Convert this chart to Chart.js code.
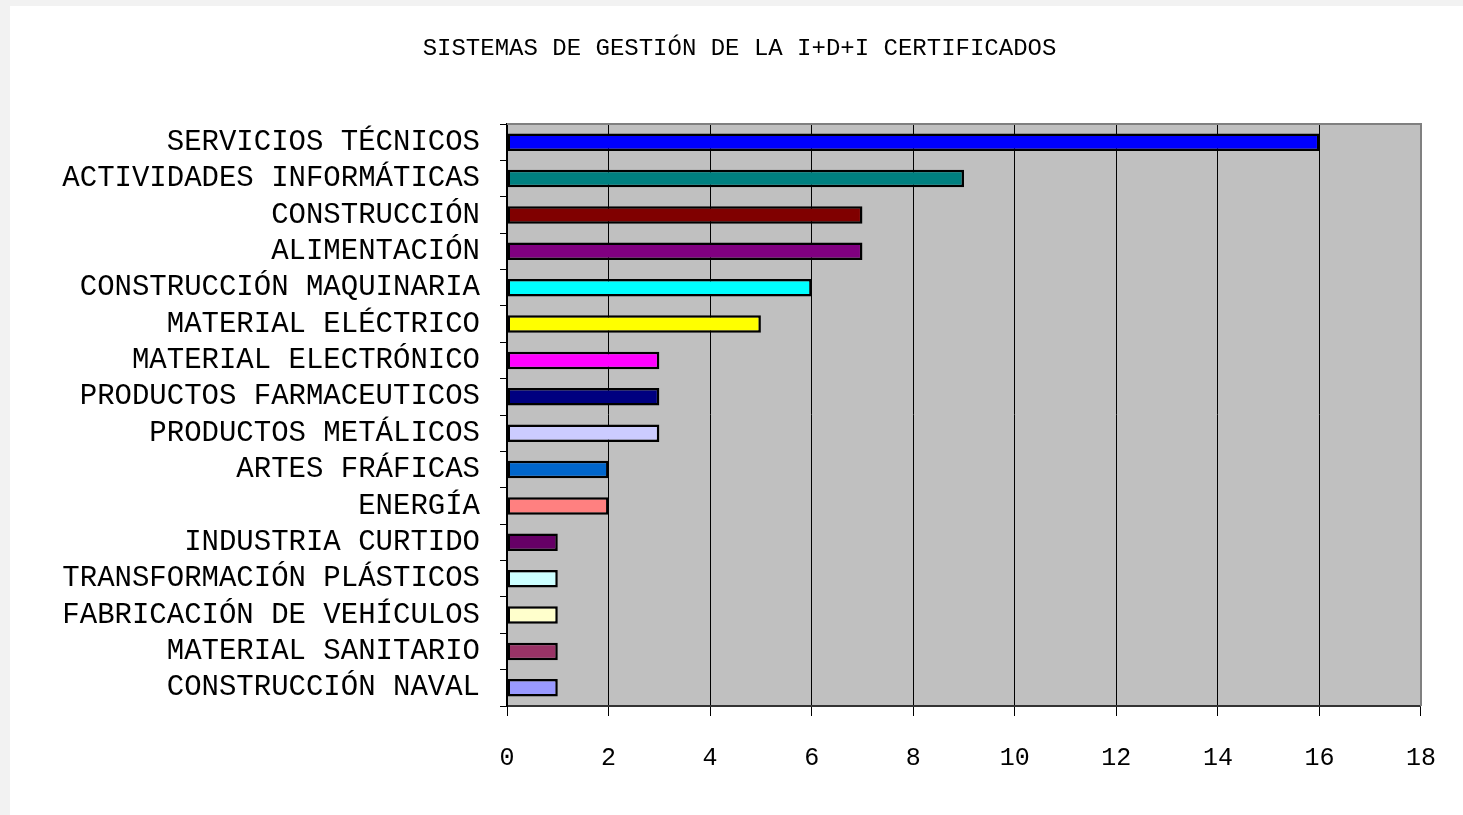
<!DOCTYPE html>
<html>
<head>
<meta charset="utf-8">
<script src="https://cdn.jsdelivr.net/npm/chart.js@4/dist/chart.umd.min.js"></script>
<style>
    html, body { margin: 0; padding: 0; background: #f2f2f2; overflow: hidden; }
    #wrap { position: absolute; left: 10px; top: 6px; width: 1453px; height: 809px; background: #ffffff; }
</style>
</head>
<body>
<div id="wrap"><canvas id="chart"></canvas></div>
<script>
const chartTitle = 'SISTEMAS DE GESTIÓN DE LA I+D+I CERTIFICADOS';

const sectors = [
    'SERVICIOS TÉCNICOS', 'ACTIVIDADES INFORMÁTICAS', 'CONSTRUCCIÓN', 'ALIMENTACIÓN',
    'CONSTRUCCIÓN MAQUINARIA', 'MATERIAL ELÉCTRICO', 'MATERIAL ELECTRÓNICO',
    'PRODUCTOS FARMACEUTICOS', 'PRODUCTOS METÁLICOS', 'ARTES FRÁFICAS', 'ENERGÍA',
    'INDUSTRIA CURTIDO', 'TRANSFORMACIÓN PLÁSTICOS', 'FABRICACIÓN DE VEHÍCULOS',
    'MATERIAL SANITARIO', 'CONSTRUCCIÓN NAVAL'
];

const certified = [16, 9, 7, 7, 6, 5, 3, 3, 3, 2, 2, 1, 1, 1, 1, 1];

const xTicks = [0, 2, 4, 6, 8, 10, 12, 14, 16, 18];

const barColors = [
    '#0000ff', '#008080', '#800000', '#800080', '#00ffff', '#ffff00', '#ff00ff',
    '#000080', '#ccccff', '#0066cc', '#ff8080', '#660066', '#ccffff', '#ffffcc',
    '#993366', '#9999ff'
];

// grey plot area, grey frame on top/right, title centred on the whole canvas
const plotDecor = {
    id: 'plotDecor',
    beforeDraw(chart) {
        const { ctx, chartArea: a } = chart;
        ctx.save();
        ctx.fillStyle = '#c0c0c0';
        ctx.fillRect(a.left, a.top, a.right - a.left, a.bottom - a.top);
        ctx.fillStyle = '#000000';
        ctx.font = '24px "Liberation Mono"';
        ctx.textAlign = 'center';
        ctx.textBaseline = 'middle';
        ctx.fillText(chartTitle, chart.width / 2 + 3, 43);
        ctx.restore();
    },
    afterDatasetsDraw(chart) {
        const { ctx, chartArea: a } = chart;
        ctx.save();
        ctx.strokeStyle = '#808080';
        ctx.lineWidth = 2;
        ctx.beginPath();
        ctx.moveTo(a.left, a.top);
        ctx.lineTo(a.right, a.top);
        ctx.lineTo(a.right, a.bottom);
        ctx.stroke();
        ctx.restore();
    }
};

new Chart(document.getElementById('chart'), {
    type: 'bar',
    data: {
        labels: sectors,
        datasets: [{
            data: certified,
            backgroundColor: barColors,
            borderColor: '#000000',
            borderWidth: 2.5,
            borderSkipped: false,
            barPercentage: 0.48,
            categoryPercentage: 1
        }]
    },
    options: {
        indexAxis: 'y',
        responsive: true,
        maintainAspectRatio: false,
        animation: false,
        layout: { padding: { top: 118, right: 41, bottom: 0, left: 0 } },
        plugins: {
            legend: { display: false },
            tooltip: { enabled: false },
            title: { display: false }
        },
        scales: {
            x: {
                min: 0,
                max: 18,
                afterBuildTicks: (scale) => { scale.ticks = xTicks.map(v => ({ value: v })); },
                grid: { color: '#000000', lineWidth: 1, tickLength: 10 },
                border: { color: '#333333', width: 2 },
                ticks: {
                    color: '#000000',
                    padding: 27,
                    maxRotation: 0,
                    font: { family: 'Liberation Mono', size: 25 }
                },
                afterFit: (scale) => { scale.height = 109; }
            },
            y: {
                grid: { drawOnChartArea: false, color: '#000000', tickLength: 7, offset: true },
                border: { color: '#000000', width: 2 },
                ticks: {
                    color: '#000000',
                    padding: 20,
                    autoSkip: false,
                    font: { family: 'Liberation Mono', size: 29 }
                },
                afterFit: (scale) => { scale.width = 497; }
            }
        }
    },
    plugins: [plotDecor]
});
</script>
</body>
</html>
